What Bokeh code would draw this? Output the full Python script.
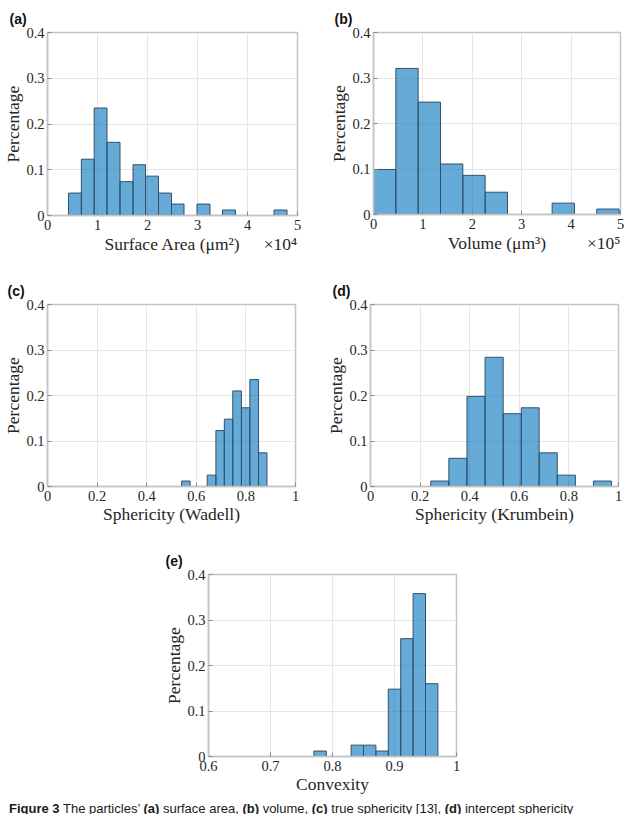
from bokeh.plotting import figure
from bokeh.models import Range1d, FixedTicker, Title, Div, LinearAxis
from bokeh.layouts import column, row
from bokeh.embed import file_html
from bokeh.resources import INLINE

# ---------------- data (fractions of particles per bin) ----------------
area_edges = [0.42, 0.677, 0.934, 1.19, 1.45, 1.71, 1.96, 2.22, 2.48, 2.73,
              2.99, 3.25, 3.50, 3.76, 4.02, 4.27, 4.53, 4.79]          # x 10^4 um^2
area_frac = [0.049, 0.123, 0.235, 0.160, 0.074, 0.111, 0.086, 0.049, 0.025,
             0.0, 0.025, 0.0, 0.012, 0.0, 0.0, 0.0, 0.012]

vol_edges = [0.0, 0.452, 0.904, 1.356, 1.808, 2.26, 2.712, 3.164, 3.616,
             4.068, 4.52, 4.972]                                       # x 10^5 um^3
vol_frac = [0.099, 0.321, 0.247, 0.111, 0.086, 0.049, 0.0, 0.0, 0.025, 0.0, 0.012]

wadell_edges = [0.541, 0.575, 0.610, 0.644, 0.679, 0.713, 0.747, 0.782,
                0.816, 0.851, 0.885]
wadell_frac = [0.012, 0.0, 0.0, 0.025, 0.123, 0.148, 0.210, 0.173, 0.235, 0.074]

krum_edges = [0.243, 0.316, 0.389, 0.462, 0.535, 0.608, 0.680, 0.753,
              0.826, 0.899, 0.972]
krum_frac = [0.012, 0.062, 0.198, 0.284, 0.160, 0.173, 0.074, 0.025, 0.0, 0.012]

conv_edges = [0.770, 0.790, 0.810, 0.830, 0.850, 0.870, 0.890, 0.910,
              0.930, 0.950, 0.970]
conv_frac = [0.012, 0.0, 0.0, 0.025, 0.025, 0.012, 0.148, 0.259, 0.358, 0.160]

y_ticks = [0, 0.1, 0.2, 0.3, 0.4]
y_tick_labels = ["0", "0.1", "0.2", "0.3", "0.4"]
big_ticks = [0, 1, 2, 3, 4, 5]
big_tick_labels = ["0", "1", "2", "3", "4", "5"]
sph_ticks = [0, 0.2, 0.4, 0.6, 0.8, 1.0]
sph_tick_labels = ["0", "0.2", "0.4", "0.6", "0.8", "1"]
conv_ticks = [0.6, 0.7, 0.8, 0.9, 1.0]
conv_tick_labels = ["0.6", "0.7", "0.8", "0.9", "1"]

SERIF = "Liberation Serif"
BOX = "#c4c4c4"
TXT = "#262626"


def style_axis(ax, label_size="14.5px"):
    ax.axis_line_color = BOX
    ax.axis_line_width = 1.5
    ax.major_tick_in = 4
    ax.major_tick_out = 0
    ax.major_tick_line_color = "#8a8a8a"
    ax.minor_tick_line_color = None
    ax.major_label_text_font = SERIF
    ax.major_label_text_font_size = label_size
    ax.major_label_text_color = TXT
    ax.axis_label_text_font = SERIF
    ax.axis_label_text_font_size = "17.5px"
    ax.axis_label_text_font_style = "normal"
    ax.axis_label_text_color = TXT


def panel(edges, fracs, xr, xticks, xlabels, xlabel, tag,
          left, right, top, bottom, fw, fh, tag_dx, exponent=None):
    p = figure(output_backend="svg", toolbar_location=None, title=None,
               frame_width=fw, frame_height=fh,
               min_border_left=left, min_border_right=right,
               min_border_top=top, min_border_bottom=bottom,
               x_range=Range1d(*xr), y_range=Range1d(0, 0.4))
    L = [edges[i] for i in range(len(fracs)) if fracs[i] > 0]
    R = [edges[i + 1] for i in range(len(fracs)) if fracs[i] > 0]
    T = [f for f in fracs if f > 0]
    p.quad(left=L, right=R, top=T, bottom=0, fill_color="#0072BD",
           fill_alpha=0.6, line_color="#33506a", line_width=1)
    p.xaxis.ticker = FixedTicker(ticks=xticks)
    p.xaxis.major_label_overrides = dict(zip(xticks, xlabels))
    p.yaxis.ticker = FixedTicker(ticks=y_ticks)
    p.yaxis.major_label_overrides = dict(zip(y_ticks, y_tick_labels))
    p.yaxis.axis_label = "Percentage"
    style_axis(p.xaxis[0])
    style_axis(p.yaxis[0])
    p.xaxis.major_label_standoff = 4
    p.yaxis.major_label_standoff = 3
    p.yaxis.axis_label_standoff = 0
    if exponent:
        # axis title and the axis multiplier share one row below the tick labels
        mid = (xr[0] + xr[1]) / 2
        exp_pos = xr[1] - 0.068 * (xr[1] - xr[0])
        ax2 = LinearAxis(ticker=FixedTicker(ticks=[mid, exp_pos]),
                         major_label_overrides={mid: xlabel, exp_pos: exponent})
        style_axis(ax2, "17.5px")
        ax2.axis_line_color = None
        ax2.major_tick_line_color = None
        ax2.major_label_standoff = 1
        p.add_layout(ax2, "below")
    else:
        p.xaxis.axis_label = xlabel
        p.xaxis.axis_label_standoff = 0
    p.outline_line_color = BOX
    p.outline_line_width = 1.5
    p.grid.grid_line_color = "#e6e6e6"
    p.grid.grid_line_width = 1
    p.background_fill_color = "white"
    p.border_fill_color = "white"
    # panel tag above the frame
    p.add_layout(Title(text=tag, align="left", offset=tag_dx, standoff=8,
                       vertical_align="top",
                       text_font="Liberation Sans", text_font_style="bold",
                       text_font_size="14px", text_color="#111111"), "above")
    return p


pa = panel(area_edges, area_frac, (0, 5), big_ticks, big_tick_labels,
           "Surface Area (μm²)", "(a)", 45, 25, 32, 57, 250, 183, -38, "×10⁴")
pb = panel(vol_edges, vol_frac, (0, 5), big_ticks, big_tick_labels,
           "Volume (μm³)", "(b)", 51, 22, 32, 57, 247, 182, -39, "×10⁵")
pc = panel(wadell_edges, wadell_frac, (0, 1), sph_ticks, sph_tick_labels,
           "Sphericity (Wadell)", "(c)", 47, 25, 30, 58, 248, 182, -40)
pd = panel(krum_edges, krum_frac, (0, 1), sph_ticks, sph_tick_labels,
           "Sphericity (Krumbein)", "(d)", 50, 22, 32, 55, 248, 182, -38)
pe = panel(conv_edges, conv_frac, (0.6, 1), conv_ticks, conv_tick_labels,
           "Convexity", "(e)", 208, 184, 32, 40, 248, 182, -43)

caption = Div(
    text=('<div style="font-family:\'Liberation Sans\',Arial,sans-serif;font-size:13px;'
          'line-height:16px;white-space:nowrap;padding-left:4px;color:#1a1a1a;">'
          '<b>Figure 3</b> The particles\u2019 <b>(a)</b> surface area, <b>(b)</b> volume, '
          '<b>(c)</b> true sphericity [13], <b>(d)</b> intercept sphericity</div>'),
    width=640, height=16,
    styles={"white-space": "nowrap"})

layout = column(row(pa, pb), row(pc, pd), pe, caption)

open("out.html", "w").write(file_html(layout, INLINE))
